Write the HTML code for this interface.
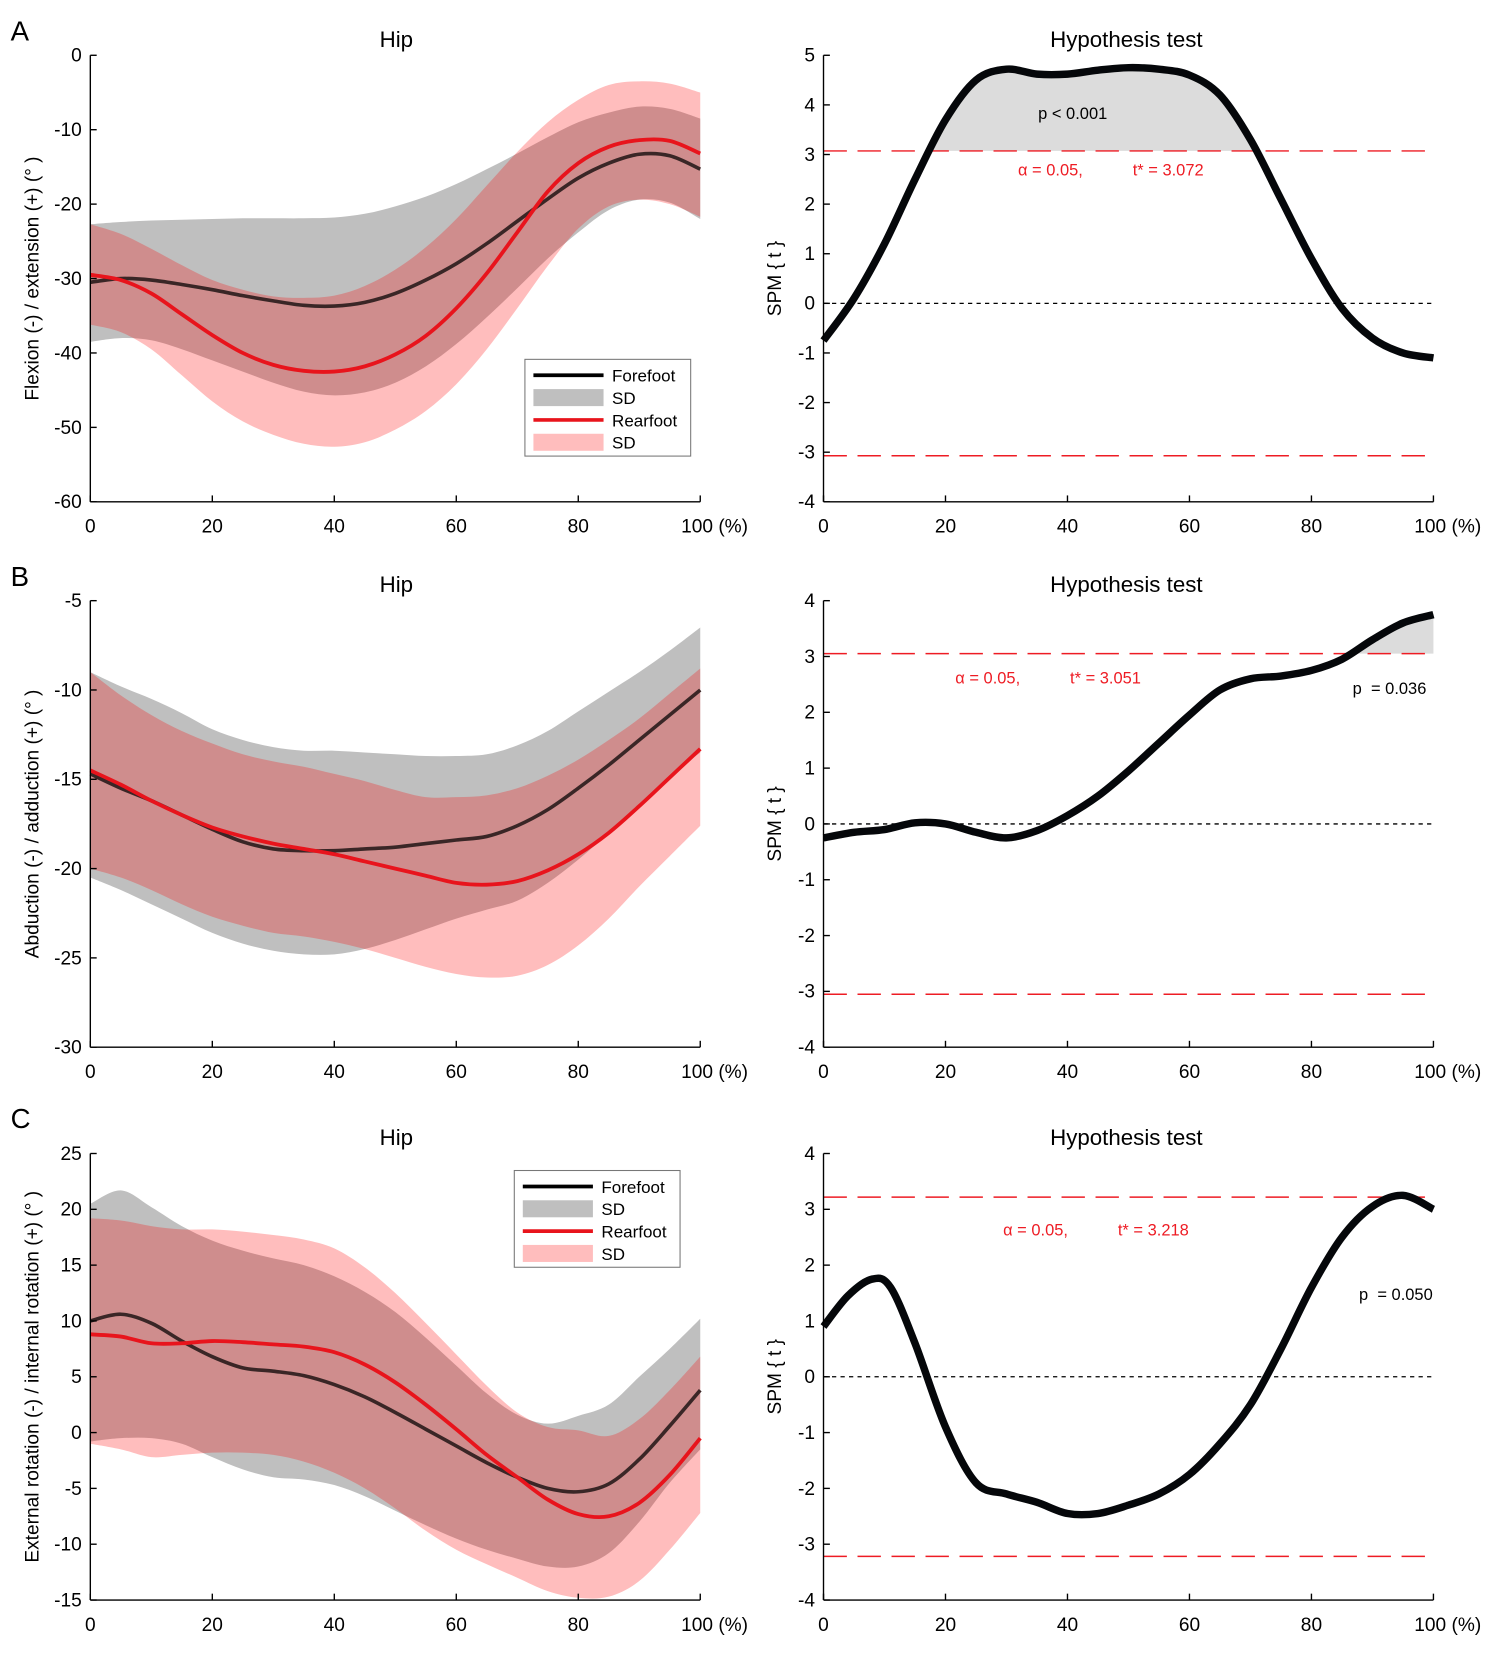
<!DOCTYPE html>
<html><head><meta charset="utf-8"><style>
html,body{margin:0;padding:0;background:#fff;}
svg{display:block;font-family:"Liberation Sans",Arial,sans-serif;}
</style></head><body>
<svg id="fig" width="1494" height="1667" viewBox="0 0 1406 1568" preserveAspectRatio="none" xmlns="http://www.w3.org/2000/svg"></svg>
<script>
const X21=[0,5,10,15,20,25,30,35,40,45,50,55,60,65,70,75,80,85,90,95,100];
// Panel A
const aFF=[-30.5,-30,-30.2,-30.8,-31.5,-32.3,-33,-33.6,-33.7,-33.2,-32,-30.2,-28,-25.3,-22.3,-19.3,-16.5,-14.5,-13.3,-13.5,-15.3];
const aFFup=[-22.7,-22.4,-22.2,-22.1,-22,-21.9,-21.9,-21.9,-21.8,-21.3,-20.3,-19,-17.3,-15.3,-13.2,-11,-9,-7.7,-6.9,-7.2,-8.5];
const aFFlo=[-38.5,-38,-38.3,-39.5,-41,-42.5,-44,-45.2,-45.7,-45.3,-44,-41.8,-38.8,-35.2,-31.3,-27.3,-23.8,-20.8,-19.4,-19.8,-22];
const aRF=[-29.5,-30.2,-32,-34.8,-37.6,-40,-41.6,-42.4,-42.5,-41.8,-40.2,-37.7,-34,-29.3,-23.8,-18.3,-14.5,-12.3,-11.4,-11.5,-13.2];
const aRFup=[-22.7,-24,-26,-28.2,-30.2,-31.5,-32.4,-32.6,-32.3,-31,-28.8,-25.8,-22,-17.5,-13,-9,-6,-4,-3.5,-3.8,-5];
const aRFlo=[-36.2,-37.2,-39.5,-43,-46.5,-49.2,-51,-52.2,-52.6,-52,-50.3,-47.8,-44.2,-39.5,-34,-28.3,-23.3,-20.3,-19.4,-20,-21.7];
const aSPM=[-0.75,0.1,1.2,2.5,3.7,4.5,4.72,4.62,4.62,4.7,4.75,4.72,4.6,4.2,3.3,2.1,0.9,-0.1,-0.7,-1.0,-1.1];
const aThr=3.072;
// Panel B
const bFF=[-14.7,-15.5,-16.2,-17,-17.8,-18.5,-18.9,-19,-19,-18.9,-18.8,-18.6,-18.4,-18.2,-17.6,-16.7,-15.5,-14.2,-12.8,-11.4,-10];
const bFFup=[-9,-9.8,-10.5,-11.3,-12.2,-12.8,-13.2,-13.4,-13.4,-13.5,-13.6,-13.7,-13.7,-13.6,-13.1,-12.3,-11.2,-10.1,-9,-7.8,-6.5];
const bFFlo=[-20.5,-21.2,-22,-22.8,-23.6,-24.2,-24.6,-24.8,-24.8,-24.5,-24,-23.4,-22.8,-22.3,-21.8,-20.8,-19.5,-18,-16.4,-14.8,-13.5];
const bRF=[-14.5,-15.3,-16.2,-17,-17.7,-18.2,-18.6,-18.9,-19.2,-19.6,-20,-20.4,-20.8,-20.9,-20.7,-20.1,-19.2,-18,-16.5,-14.9,-13.3];
const bRFup=[-9,-10.3,-11.4,-12.3,-13,-13.6,-14,-14.3,-14.7,-15.1,-15.6,-16,-16,-15.9,-15.5,-14.8,-13.9,-12.8,-11.6,-10.2,-8.8];
const bRFlo=[-20,-20.5,-21.2,-22,-22.7,-23.2,-23.6,-23.8,-24.1,-24.5,-25,-25.5,-25.9,-26.1,-26,-25.4,-24.3,-22.8,-21,-19.3,-17.6];
const bSPM=[-0.25,-0.15,-0.1,0.02,0,-0.15,-0.25,-0.12,0.15,0.5,0.95,1.45,1.95,2.4,2.6,2.65,2.75,2.95,3.3,3.6,3.75];
const bThr=3.051;
// Panel C
const cFF=[10,10.6,9.8,8.2,6.8,5.8,5.5,5.1,4.3,3.2,1.8,0.3,-1.2,-2.7,-4,-5,-5.3,-4.6,-2.4,0.6,3.8];
const cFFup=[20.5,21.7,20.2,18.5,17.2,16.3,15.6,15,14,12.6,10.8,8.5,6,3.5,1.6,0.8,1.5,2.5,5,7.5,10.2];
const cFFlo=[-0.8,-0.5,-0.5,-1,-2.2,-3.3,-4,-4.2,-4.7,-5.7,-7,-8.3,-9.5,-10.5,-11.3,-12,-12,-10.8,-8,-4.5,-1.5];
const cRF=[8.8,8.6,8,8,8.2,8.1,7.9,7.7,7.2,6.1,4.5,2.5,0.3,-2,-4,-6,-7.3,-7.5,-6.3,-3.8,-0.5];
const cRFup=[19.2,19,18.5,18.2,18.2,18,17.7,17.3,16.5,14.8,12.5,9.8,7,4.2,1.8,0.5,0.2,-0.3,1.2,3.8,6.8];
const cRFlo=[-1,-1.5,-2.2,-2,-1.8,-1.8,-2,-2.6,-3.6,-5,-6.8,-8.8,-10.5,-11.8,-13,-14.2,-14.8,-14.7,-13.3,-10.5,-7.2];
const cSPMx=[0,4,8,11,15,20,25,30,35,40,45,50,55,60,65,70,75,80,85,90,95,100];
const cSPM=[0.9,1.45,1.75,1.6,0.6,-0.9,-1.9,-2.1,-2.25,-2.45,-2.45,-2.3,-2.1,-1.75,-1.2,-0.5,0.5,1.6,2.5,3.05,3.25,3.0];
const cThr=3.218;

const NS="http://www.w3.org/2000/svg";
const svg=document.getElementById('fig');
function el(tag,attrs,parent,text){const e=document.createElementNS(NS,tag);for(const k in attrs)e.setAttribute(k,attrs[k]);if(text!==undefined)e.textContent=text;(parent||svg).appendChild(e);return e;}
function spline(pts){let d='M'+pts[0][0]+','+pts[0][1];for(let i=0;i<pts.length-1;i++){const p0=pts[Math.max(0,i-1)],p1=pts[i],p2=pts[i+1],p3=pts[Math.min(pts.length-1,i+2)];const c1=[p1[0]+(p2[0]-p0[0])/6,p1[1]+(p2[1]-p0[1])/6],c2=[p2[0]-(p3[0]-p1[0])/6,p2[1]-(p3[1]-p1[1])/6];d+=`C${c1[0]},${c1[1]} ${c2[0]},${c2[1]} ${p2[0]},${p2[1]}`;}return d;}
function makeAxes(x0,x1,y0,y1,ymin,ymax,step){
  const sx=v=>x0+(v/100)*(x1-x0), sy=v=>y1-(v-ymin)/(ymax-ymin)*(y1-y0);
  return {sx,sy,x0,x1,y0,y1,ymin,ymax,step};
}
function drawFrame(ax,g){
  el('line',{x1:ax.x0,y1:ax.y0,x2:ax.x0,y2:ax.y1,stroke:'#000','stroke-width':1.3},g);
  el('line',{x1:ax.x0,y1:ax.y1,x2:ax.x1,y2:ax.y1,stroke:'#000','stroke-width':1.3},g);
  for(let v=ax.ymin;v<=ax.ymax+1e-9;v+=ax.step){const y=ax.sy(v);
    el('line',{x1:ax.x0,y1:y,x2:ax.x0+6,y2:y,stroke:'#000','stroke-width':1.3},g);
    const t=el('text',{x:ax.x0-8,y:y+6,'text-anchor':'end','font-size':18},g,String(v));
    }
  for(let v=0;v<=100;v+=20){const x=ax.sx(v);
    el('line',{x1:x,y1:ax.y1,x2:x,y2:ax.y1-6,stroke:'#000','stroke-width':1.3},g);
    const t=el('text',{x:v===100?x-18:x,y:ax.y1+29,'text-anchor':v===100?'start':'middle','font-size':18},g,v===100?'100 (%)':String(v));
    }
}
function band(ax,xs,up,lo,fill,g,name){
  const top=xs.map((x,i)=>[ax.sx(x),ax.sy(up[i])]);const bot=xs.map((x,i)=>[ax.sx(x),ax.sy(lo[i])]).reverse();
  const d=spline(top)+'L'+spline(bot).slice(1)+'Z';
  const p=el('path',{d,fill,stroke:'none'},g);
  
}
function line(ax,xs,ys,stroke,w,g,name){
  const p=el('path',{d:spline(xs.map((x,i)=>[ax.sx(x),ax.sy(ys[i])])),fill:'none',stroke,'stroke-width':w,'stroke-linejoin':'round'},g);
  
}
function kinPanel(name,ax,FF,FFup,FFlo,RF,RFup,RFlo,ylabel,ylabY){
  const g=el('g',{});
  band(ax,X21,FFup,FFlo,'#bfbfbf',g,'forefoot-sd-band');
  band(ax,X21,RFup,RFlo,'rgba(255,0,0,0.26)',g,'rearfoot-sd-band');
  line(ax,X21,FF,'#3a2626',3.4,g,'forefoot-line');
  line(ax,X21,RF,'#e8141c',3.6,g,'rearfoot-line');
  drawFrame(ax,g);
  const t=el('text',{x:373,y:ax.y0-8,'text-anchor':'middle','font-size':21},g,'Hip');
  
  const yl=el('text',{x:0,y:0,transform:`translate(36,${ylabY}) rotate(-90)`,'text-anchor':'middle','font-size':18},g,ylabel);
  
  return g;
}
function legend(x,y,g){
  const lg=el('g',{},g);
  el('rect',{x,y,width:156,height:91,fill:'#fff',stroke:'#777','stroke-width':1},lg);
  const items=[['line','#000','Forefoot'],['rect','#bfbfbf','SD'],['line','#e8141c','Rearfoot'],['rect','#ffbdbd','SD']];
  items.forEach((it,i)=>{const yy=y+15+i*21;
    const e=el('g',{},lg);
    if(it[0]==='line')el('line',{x1:x+8,y1:yy,x2:x+74,y2:yy,stroke:it[1],'stroke-width':3.5},e);
    else el('rect',{x:x+8,y:yy-8,width:66,height:16,fill:it[1]},e);
    el('text',{x:x+82,y:yy+6,'font-size':16},e,it[2]);});
}
function spmPanel(name,ax,xs,ys,thr,texts){
  const g=el('g',{});
  const N=400;let seg=[];const segs=[];
  const pts=[];const path=document.createElementNS(NS,'path');
  path.setAttribute('d',spline(xs.map((x,i)=>[ax.sx(x),ax.sy(ys[i])])));svg.appendChild(path);
  const L=path.getTotalLength();for(let i=0;i<=N;i++)pts.push(path.getPointAtLength(L*i/N));svg.removeChild(path);
  const ty=ax.sy(thr);
  pts.forEach(p=>{if(p.y<ty){seg.push(p);}else if(seg.length){segs.push(seg);seg=[];}});if(seg.length)segs.push(seg);
  segs.forEach(s=>{let d=`M${s[0].x},${ty}`;s.forEach(p=>d+=`L${p.x},${p.y}`);d+=`L${s[s.length-1].x},${ty}Z`;
    const c=el('path',{d,fill:'#dcdcdc'},g);});
  const z=el('line',{x1:ax.x0,y1:ax.sy(0),x2:ax.x1,y2:ax.sy(0),stroke:'#000','stroke-width':1.2,'stroke-dasharray':'4,4'},g);
  
  [thr,-thr].forEach(v=>{const l=el('line',{x1:ax.x0,y1:ax.sy(v),x2:ax.x1,y2:ax.sy(v),stroke:'#ee1c24','stroke-width':1.4,'stroke-dasharray':'22,10'},g);
    });
  line(ax,xs,ys,'#05070a',7,g,'spm-t-curve');
  drawFrame(ax,g);
  const t=el('text',{x:1060,y:ax.y0-8,'text-anchor':'middle','font-size':21},g,'Hypothesis test');
  
  const yl=el('text',{x:0,y:0,transform:`translate(735,${(ax.y0+ax.y1)/2}) rotate(-90)`,'text-anchor':'middle','font-size':18},g,'SPM { t }');
  
  texts.forEach(tx=>{const e=el('text',{x:tx[0],y:tx[1],'font-size':15.5,fill:tx[3],style:'white-space:pre'},g,tx[2]);});
}
// A
const axA=makeAxes(85,659,52,472,-60,0,10);
const gA=kinPanel('panel-a-hip-flexion',axA,aFF,aFFup,aFFlo,aRF,aRFup,aRFlo,'Flexion (-) / extension (+) (° )',262);
legend(494,338,gA);
spmPanel('panel-a-spm',makeAxes(775,1349,52,472,-4,5,1),X21,aSPM,aThr,[[977,112,'p < 0.001','#000','p-value-label'],[958,165,'α = 0.05,','#ee1c24','alpha-label'],[1066,165,'t* = 3.072','#ee1c24','critical-t-label']]);
// B
const axB=makeAxes(85,659,565,985,-30,-5,5);
kinPanel('panel-b-hip-abduction',axB,bFF,bFFup,bFFlo,bRF,bRFup,bRFlo,'Abduction (-) / adduction (+) (° )',775);
spmPanel('panel-b-spm',makeAxes(775,1349,565,985,-4,4,1),X21,bSPM,bThr,[[899,643,'α = 0.05,','#ee1c24','alpha-label'],[1007,643,'t* = 3.051','#ee1c24','critical-t-label'],[1273,653,'p  = 0.036','#000','p-value-label']]);
// C
const axC=makeAxes(85,659,1085,1505,-15,25,5);
const gC=kinPanel('panel-c-hip-rotation',axC,cFF,cFFup,cFFlo,cRF,cRFup,cRFlo,'External rotation (-) / internal rotation (+) (° )',1295);
legend(484,1101,gC);
spmPanel('panel-c-spm',makeAxes(775,1349,1085,1505,-4,4,1),cSPMx,cSPM,cThr,[[944,1162,'α = 0.05,','#ee1c24','alpha-label'],[1052,1162,'t* = 3.218','#ee1c24','critical-t-label'],[1279,1223,'p  = 0.050','#000','p-value-label']]);
[['A',30],['B',543],['C',1053]].forEach(p=>{const t=el('text',{x:10,y:p[1]+8,'font-size':26},svg,p[0]);});
</script>
</body></html>
